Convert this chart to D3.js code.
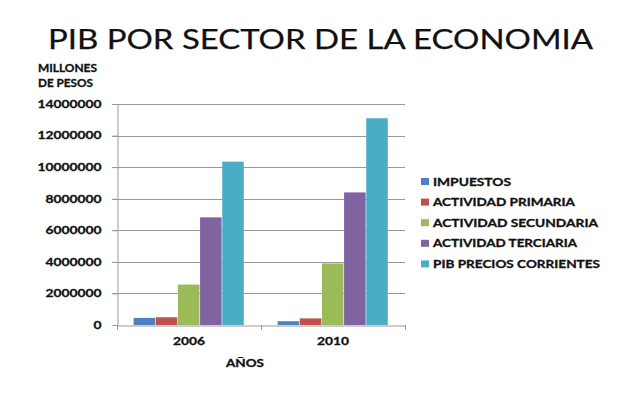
<!DOCTYPE html>
<html><head><meta charset="utf-8">
<script src="https://cdn.jsdelivr.net/npm/d3@7"></script>
<style>
html,body{margin:0;padding:0;background:#fff;}
svg{display:block;}
text{fill:#111;}
.lbl{stroke:#111;stroke-width:0.3px;}
</style></head>
<body>
<script>
const years = ["2006", "2010"];
const series = ["IMPUESTOS", "ACTIVIDAD PRIMARIA", "ACTIVIDAD  SECUNDARIA", "ACTIVIDAD TERCIARIA", "PIB PRECIOS CORRIENTES"];
const impuestos = [450000, 240000];
const primaria = [490000, 420000];
const secundaria = [2560000, 3900000];
const terciaria = [6820000, 8400000];
const pibCorrientes = [10350000, 13100000];
const yTicks = [0, 2000000, 4000000, 6000000, 8000000, 10000000, 12000000, 14000000];
const colors = ["#4F81BD", "#C0504D", "#9BBB59", "#8064A2", "#4BACC6"];
const legendWidths = [78, 142, 165, 144, 167];

const values = [impuestos, primaria, secundaria, terciaria, pibCorrientes];
const W = 640, H = 397;
const FONT = "Lato, 'Open Sans', sans-serif";
const svg = d3.select("body").append("svg").attr("width", W).attr("height", H);

const x0 = d3.scaleBand().domain(years).range([117, 405]).padding(0);
const x1 = d3.scaleBand().domain(series).range([0, x0.bandwidth()]).paddingInner(0).paddingOuter(0.75);
const y = d3.scaleLinear().domain([0, 14000000]).range([325, 104]);

// gridlines
svg.append("g").selectAll("line").data(yTicks.filter(d => d > 0)).join("line")
  .attr("x1", 112).attr("x2", 405)
  .attr("y1", d => Math.round(y(d)) + 0.5).attr("y2", d => Math.round(y(d)) + 0.5)
  .attr("stroke", "#9a9a9a").attr("stroke-width", 1);

// y axis
const yAxis = svg.append("g").attr("transform", "translate(117.5,0)")
  .call(d3.axisLeft(y).tickValues(yTicks).tickFormat(d3.format("d")).tickSize(5).tickPadding(11));
yAxis.select(".domain").attr("stroke", "#9a9a9a");
yAxis.selectAll(".tick line").attr("stroke", "#9a9a9a");
yAxis.selectAll(".tick text")
  .attr("class", "lbl")
  .attr("font-family", FONT).attr("font-weight", "bold").attr("font-size", 10.5)
  .attr("fill", "#111")
  .attr("textLength", function() { return this.textContent.length * 8; })
  .attr("lengthAdjust", "spacingAndGlyphs");

// bars
const g = svg.append("g");
years.forEach((yr, i) => {
  series.forEach((s, j) => {
    g.append("rect")
      .attr("x", x0(yr) + x1(s))
      .attr("y", y(values[j][i]))
      .attr("width", x1.bandwidth() - 0.6)
      .attr("height", y(0) - y(values[j][i]))
      .attr("fill", colors[j]);
  });
});

// x axis
const xAxis = svg.append("g").attr("transform", "translate(0,325.5)")
  .call(d3.axisBottom(x0).tickSize(0).tickPadding(12));
xAxis.select(".domain").attr("stroke", "#9a9a9a");
xAxis.selectAll(".tick text")
  .attr("class", "lbl")
  .attr("font-family", FONT).attr("font-weight", "bold").attr("font-size", 10.5)
  .attr("fill", "#111")
  .attr("textLength", 32).attr("lengthAdjust", "spacingAndGlyphs");
svg.append("g").selectAll("line").data([117, 117 + x0.bandwidth(), 405]).join("line")
  .attr("x1", d => Math.round(d) + 0.5).attr("x2", d => Math.round(d) + 0.5)
  .attr("y1", 325).attr("y2", 330).attr("stroke", "#9a9a9a");

// titles
svg.append("text").attr("x", 48).attr("y", 48.5)
  .attr("font-family", FONT).attr("font-size", 27)
  .attr("stroke", "#111").attr("stroke-width", 0.25)
  .attr("textLength", 545).attr("lengthAdjust", "spacingAndGlyphs")
  .text("PIB POR SECTOR DE LA ECONOMIA");
svg.append("text").attr("class", "lbl").attr("x", 38).attr("y", 72)
  .attr("font-family", FONT).attr("font-weight", "bold").attr("font-size", 10.5)
  .attr("textLength", 59).attr("lengthAdjust", "spacingAndGlyphs").text("MILLONES");
svg.append("text").attr("class", "lbl").attr("x", 38).attr("y", 87)
  .attr("font-family", FONT).attr("font-weight", "bold").attr("font-size", 10.5)
  .attr("textLength", 55).attr("lengthAdjust", "spacingAndGlyphs").text("DE PESOS");
svg.append("text").attr("class", "lbl").attr("x", 245).attr("y", 366.5).attr("text-anchor", "middle")
  .attr("font-family", FONT).attr("font-weight", "bold").attr("font-size", 10.5)
  .attr("textLength", 38).attr("lengthAdjust", "spacingAndGlyphs").text("AÑOS");

// legend
const lg = svg.append("g").selectAll("g").data(series).join("g")
  .attr("transform", (d, i) => `translate(421,${182 + i * 20.6})`);
lg.append("rect").attr("x", 0).attr("y", -4).attr("width", 8).attr("height", 7)
  .attr("fill", (d, i) => colors[i]);
lg.append("text").attr("class", "lbl").attr("x", 12).attr("y", 3.6)
  .attr("font-family", FONT).attr("font-weight", "bold").attr("font-size", 10.5)
  .attr("textLength", (d, i) => legendWidths[i]).attr("lengthAdjust", "spacingAndGlyphs")
  .text(d => d);
</script>
</body></html>
